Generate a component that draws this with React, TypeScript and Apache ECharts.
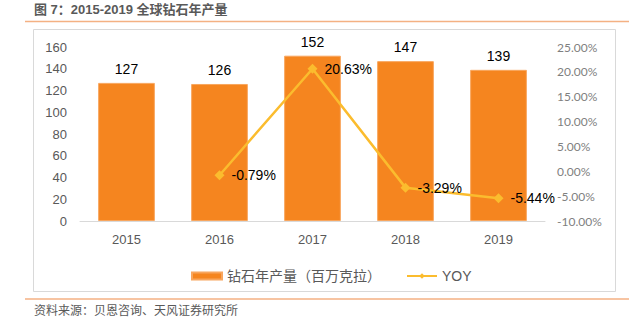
import React, { useEffect, useRef } from "react";
import * as echarts from "echarts";

const categories = ["2015", "2016", "2017", "2018", "2019"];
const production = [127, 126, 152, 147, 139];
const yoy: (number | null)[] = [null, -0.79, 20.63, -3.29, -5.44];
const barName = "钻石年产量（百万克拉）";
const lineName = "YOY";
const title = "图 7：2015-2019 全球钻石年产量";
const source = "资料来源：贝恩咨询、天风证券研究所";

export default function App() {
  const ref = useRef<HTMLDivElement>(null);
  useEffect(() => {
    const chart = echarts.init(ref.current!, null, { renderer: "svg" });
    const font = "Arial, 'Liberation Sans', 'Noto Sans CJK SC', sans-serif";
    chart.setOption({
      animation: false,
      textStyle: { fontFamily: font },
      grid: { left: 80, right: 84, top: 47, bottom: 105, containLabel: false },
      legend: {
        left: 186,
        top: 264,
        itemWidth: 30,
        itemHeight: 7,
        itemGap: 25,
        textStyle: { fontSize: 14, color: "#595959", fontFamily: font },
        data: [
          { name: barName, icon: "rect" },
          { name: lineName },
        ],
      },
      graphic: [
        {
          type: "text",
          left: 34,
          top: 3,
          style: { text: title, fontSize: 13, fontWeight: "bold", fill: "#595959", fontFamily: font },
        },
        {
          type: "line",
          shape: { x1: 25, y1: 21.5, x2: 629, y2: 21.5 },
          style: { stroke: "#F4B183", lineWidth: 1.5 },
        },
        {
          type: "rect",
          shape: { x: 33.5, y: 29.5, width: 582, height: 262 },
          style: { fill: "none", stroke: "#D9D9D9", lineWidth: 1 },
          z: -1,
        },
        {
          type: "line",
          shape: { x1: 25, y1: 299, x2: 629, y2: 299 },
          style: { stroke: "#F4B183", lineWidth: 1.5 },
        },
        {
          type: "text",
          left: 34,
          top: 305,
          style: { text: source, fontSize: 12, fill: "#595959", fontFamily: font },
        },
      ],
      xAxis: {
        type: "category",
        data: categories,
        axisLine: { lineStyle: { color: "#D9D9D9" } },
        axisTick: { show: false },
        axisLabel: { color: "#595959", fontSize: 13, margin: 12 },
      },
      yAxis: [
        {
          type: "value",
          min: 0,
          max: 160,
          interval: 20,
          splitLine: { show: false },
          axisLine: { show: false },
          axisTick: { show: false },
          axisLabel: { color: "#595959", fontSize: 13, margin: 13 },
        },
        {
          type: "value",
          min: -10,
          max: 25,
          interval: 5,
          splitLine: { show: false },
          axisLine: { show: false },
          axisTick: { show: false },
          axisLabel: {
            color: "#7f7f7f",
            fontSize: 12,
            margin: 12,
            fontFamily: "Lato, Arial, sans-serif",
            formatter: (v: number) => v.toFixed(2) + "%",
          },
        },
      ],
      series: [
        {
          name: barName,
          type: "bar",
          data: production,
          barWidth: "61%",
          itemStyle: { color: "#F5851F", borderColor: "#F8A65E", borderWidth: 1 },
          label: { show: true, position: "top", distance: 7, color: "#000", fontSize: 14 },
        },
        {
          name: lineName,
          type: "line",
          yAxisIndex: 1,
          data: yoy,
          symbol: "diamond",
          symbolSize: 10,
          connectNulls: false,
          lineStyle: { color: "#FBBC2E", width: 2.5 },
          itemStyle: { color: "#FBBC2E" },
          label: {
            show: true,
            position: "right",
            distance: 7,
            color: "#000",
            fontSize: 14,
            formatter: (p: any) => p.value.toFixed(2) + "%",
          },
        },
      ],
    });
    return () => chart.dispose();
  }, []);
  return (
    <div
      ref={ref}
      style={{ position: "fixed", left: 0, top: 0, width: 629, height: 326, background: "#fff" }}
    />
  );
}
